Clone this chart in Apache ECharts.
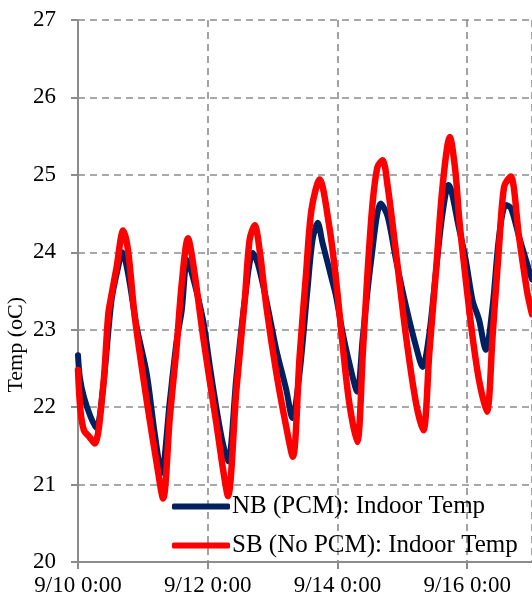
<!DOCTYPE html>
<html>
<head>
<meta charset="utf-8">
<script src="https://cdn.jsdelivr.net/npm/echarts@6/dist/echarts.min.js"></script>
<style>
html,body{margin:0;padding:0;background:#fff;}
#chart{width:532px;height:601px;}
</style>
</head>
<body>
<div id="chart"></div>
<script>
// Hours since 9/10 0:00 and indoor temperatures (°C)
var nbHours = [0,0.7,2.2,4.6,6.8,9.3,12.4,14.8,16.4,18.5,21.7,25.4,28.4,30.9,34,36.4,38.4,40.4,42.5,46.3,48.5,50.6,53.3,55.5,58.6,61.7,64.7,66.5,69.7,73.4,77.1,79.3,82,84.9,86.8,88.7,90.5,94.3,95.5,98,100.4,103.3,105.4,108.5,112.1,114.6,117.7,121.4,125.1,127.5,130,132.5,134.9,137.1,141.1,143.5,146,148.4,150.9,153.4,155.8,158.3,160.2,163.2,166.9,168];
var nbTemp  = [22.67,22.38,22.13,21.88,21.73,22.26,23.38,23.8,24.0,23.73,23.04,22.44,21.66,21.15,22.09,22.83,23.25,23.9,23.68,23.12,22.6,22.12,21.58,21.3,22.39,23.38,23.99,23.86,23.38,22.74,22.22,21.86,22.44,23.51,24.16,24.38,24.12,23.6,23.43,22.95,22.57,22.2,22.91,23.9,24.63,24.46,23.9,23.3,22.78,22.52,22.95,23.77,24.5,24.87,24.29,23.9,23.38,23.13,22.74,23.3,24.2,24.61,24.57,24.2,23.77,23.65];
var sbHours = [0,0.9,2.2,4.1,6.2,9.3,11.2,12.4,14.3,16.7,18.5,21,25.4,29.1,31.5,34,36.4,38.4,40.7,42.8,46.3,48.7,51.2,53.7,55.5,58.6,61.7,63.5,65.4,67.2,69.7,73.4,76.8,79.5,82,84.4,86.4,89.4,93,95.5,98,100.4,103.3,105.4,107.2,109,110.8,112.7,114.6,117.7,121.4,125.1,127.8,130,132.5,134.9,137.6,139.6,141.1,143.5,146,148.4,151.3,153.4,155.8,157.7,160.1,163.2,166.3,168];
var sbTemp  = [22.48,21.96,21.7,21.62,21.53,22.26,23.2,23.45,23.81,24.28,24.03,23.17,22.09,21.28,20.82,21.88,22.74,23.6,24.18,23.81,22.91,22.35,21.79,21.19,20.85,22.22,23.38,24.16,24.35,24.03,23.3,22.44,21.79,21.36,22.65,23.73,24.55,24.94,24.33,23.64,22.78,22.05,21.55,22.7,23.77,24.63,25.1,25.19,24.85,23.99,22.91,22.05,21.7,22.7,23.77,24.85,25.49,25.06,24.42,23.64,22.91,22.35,21.94,22.91,24.07,24.85,24.98,24.2,23.47,23.2];
var seriesNames = ['NB (PCM): Indoor Temp', 'SB (No PCM): Indoor Temp'];
var yAxisTitle = 'Temp (oC)';
var startDay = 10, startMonth = 9;

function pairs(xs, ys){ return xs.map(function(x,i){ return [x, ys[i]]; }); }

var chart = echarts.init(document.getElementById('chart'), null, {renderer:'canvas'});
var FONT = '"Liberation Serif","Times New Roman",serif';
var gridColor = '#8c8c8c';
chart.setOption({
  animation:false,
  backgroundColor:'#ffffff',
  grid:{left:78, right:0, top:20, bottom:39, containLabel:false},
  xAxis:{
    type:'value', min:0, max:168, interval:48,
    axisLine:{show:true, lineStyle:{color:gridColor, width:2}},
    axisTick:{show:true, inside:false, length:7, lineStyle:{color:gridColor, width:2}},
    splitLine:{show:true, lineStyle:{color:gridColor, width:1.6, type:[7,5]}},
    axisLabel:{
      color:'#000', fontFamily:FONT, fontSize:23, margin:12, showMaxLabel:false,
      formatter:function(v){ if (v % 48 !== 0 || v >= 168) return ''; return startMonth + '/' + (startDay + Math.round(v/24)) + ' 0:00'; }
    }
  },
  yAxis:{
    type:'value', min:20, max:27, interval:1,
    axisLine:{show:true, lineStyle:{color:gridColor, width:2}},
    axisTick:{show:true, inside:false, length:7, lineStyle:{color:gridColor, width:2}},
    splitLine:{show:true, lineStyle:{color:gridColor, width:1.6, type:[7,5]}},
    axisLabel:{color:'#000', fontFamily:FONT, fontSize:23, margin:22}
  },
  legend:{
    show:true, orient:'vertical', left:172, top:494, padding:0,
    itemWidth:58, itemHeight:6, itemGap:14,
    icon:'roundRect',
    textStyle:{color:'#000', fontFamily:FONT, fontSize:25, padding:[0,0,0,-3]},
    data:[seriesNames[0], seriesNames[1]]
  },
  graphic:[{
    type:'text', left:5, top:297, rotation:Math.PI/2,
    style:{text:yAxisTitle, fill:'#000', font:'22px "Liberation Serif", serif'}
  }],
  series:[
    {name:seriesNames[0], type:'line', data:pairs(nbHours, nbTemp), showSymbol:false, symbol:'none',
     smooth:0.3, lineStyle:{color:'#002060', width:6, cap:'round', join:'round'}, itemStyle:{color:'#002060'}, z:2},
    {name:seriesNames[1], type:'line', data:pairs(sbHours, sbTemp), showSymbol:false, symbol:'none',
     smooth:0.3, lineStyle:{color:'#ff0000', width:6.5, cap:'round', join:'round'}, itemStyle:{color:'#ff0000'}, z:3}
  ]
});
</script>
</body>
</html>
